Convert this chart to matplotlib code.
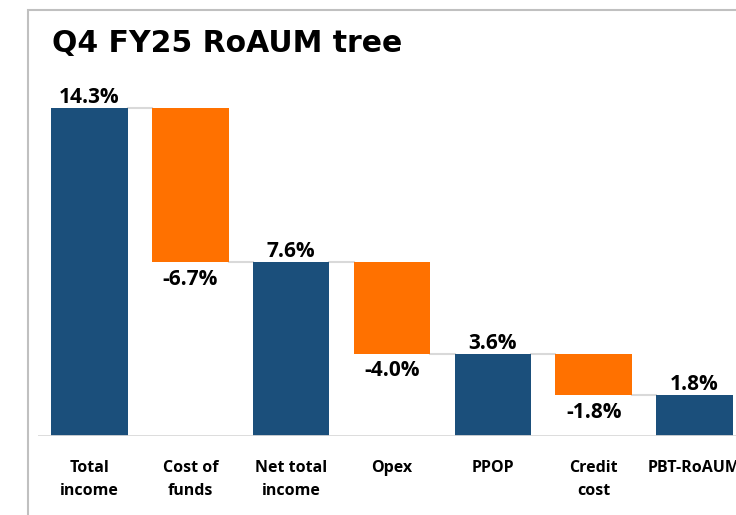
import matplotlib
matplotlib.use('Agg')
import matplotlib.pyplot as plt
from matplotlib.patches import Rectangle

# waterfall data
categories = ['Total\nincome', 'Cost of\nfunds', 'Net total\nincome', 'Opex', 'PPOP', 'Credit\ncost', 'PBT-RoAUM']
values = [14.3, -6.7, 7.6, -4.0, 3.6, -1.8, 1.8]
is_total = [True, False, True, False, True, False, True]

blue = '#1b4f7b'
orange = '#ff7100'
grey = '#d9d9d9'

W, H = 736, 515
fig = plt.figure(figsize=(W / 100, H / 100), dpi=100)
ax = fig.add_axes([38 / W, (H - 436) / H, 708 / W, (436 - 81) / H])

bottoms = []
heights = []
running = 0
for v, tot in zip(values, is_total):
    if tot:
        bottoms.append(0)
        heights.append(v)
        running = v
    else:
        bottoms.append(running + v)
        heights.append(-v)
        running = running + v

x = list(range(len(values)))
colors = [blue if t else orange for t in is_total]
bw = 0.76
ax.bar(x, heights, bottom=bottoms, width=bw, color=colors, zorder=2)

# connectors between bars
running = 0
for i, (v, tot) in enumerate(zip(values, is_total)):
    level = v if tot else running + v
    running = level
    if i < len(values) - 1:
        ax.plot([i + bw / 2, i + 1 - bw / 2], [level, level], color=grey, lw=1.5, zorder=1)

# value labels
for i, (v, tot) in enumerate(zip(values, is_total)):
    if tot:
        ax.text(i, bottoms[i] + heights[i] + 0.0, f'{v:.1f}%', ha='center', va='bottom',
                fontsize=15, fontweight='bold', family='Open Sans')
    else:
        ax.text(i, bottoms[i] - 0.3, f'{v:.1f}%', ha='center', va='top',
                fontsize=15, fontweight='bold', family='Open Sans')

ax.axhline(0, color=grey, lw=2, zorder=3)
ax.set_xlim(-0.51, 6.51)
ax.set_ylim(0, 15.5)
ax.set_xticks(x)
ax.set_xticklabels(categories, fontsize=11.5, fontweight='bold', family='Open Sans', linespacing=1.65)
ax.tick_params(axis='x', length=0, pad=17)
ax.set_yticks([])
for s in ax.spines.values():
    s.set_visible(False)

fig.text(52 / W, 1 - 44 / H, 'Q4 FY25 RoAUM tree', fontsize=21.5, fontweight='bold',
         family='DejaVu Sans', va='center', ha='left')

fig.add_artist(Rectangle((28 / W, -0.1), 1, (H - 10) / H + 0.1, transform=fig.transFigure,
                         fill=False, edgecolor='#c0c0c0', lw=1.5))

fig.savefig('out.png', dpi=100)
